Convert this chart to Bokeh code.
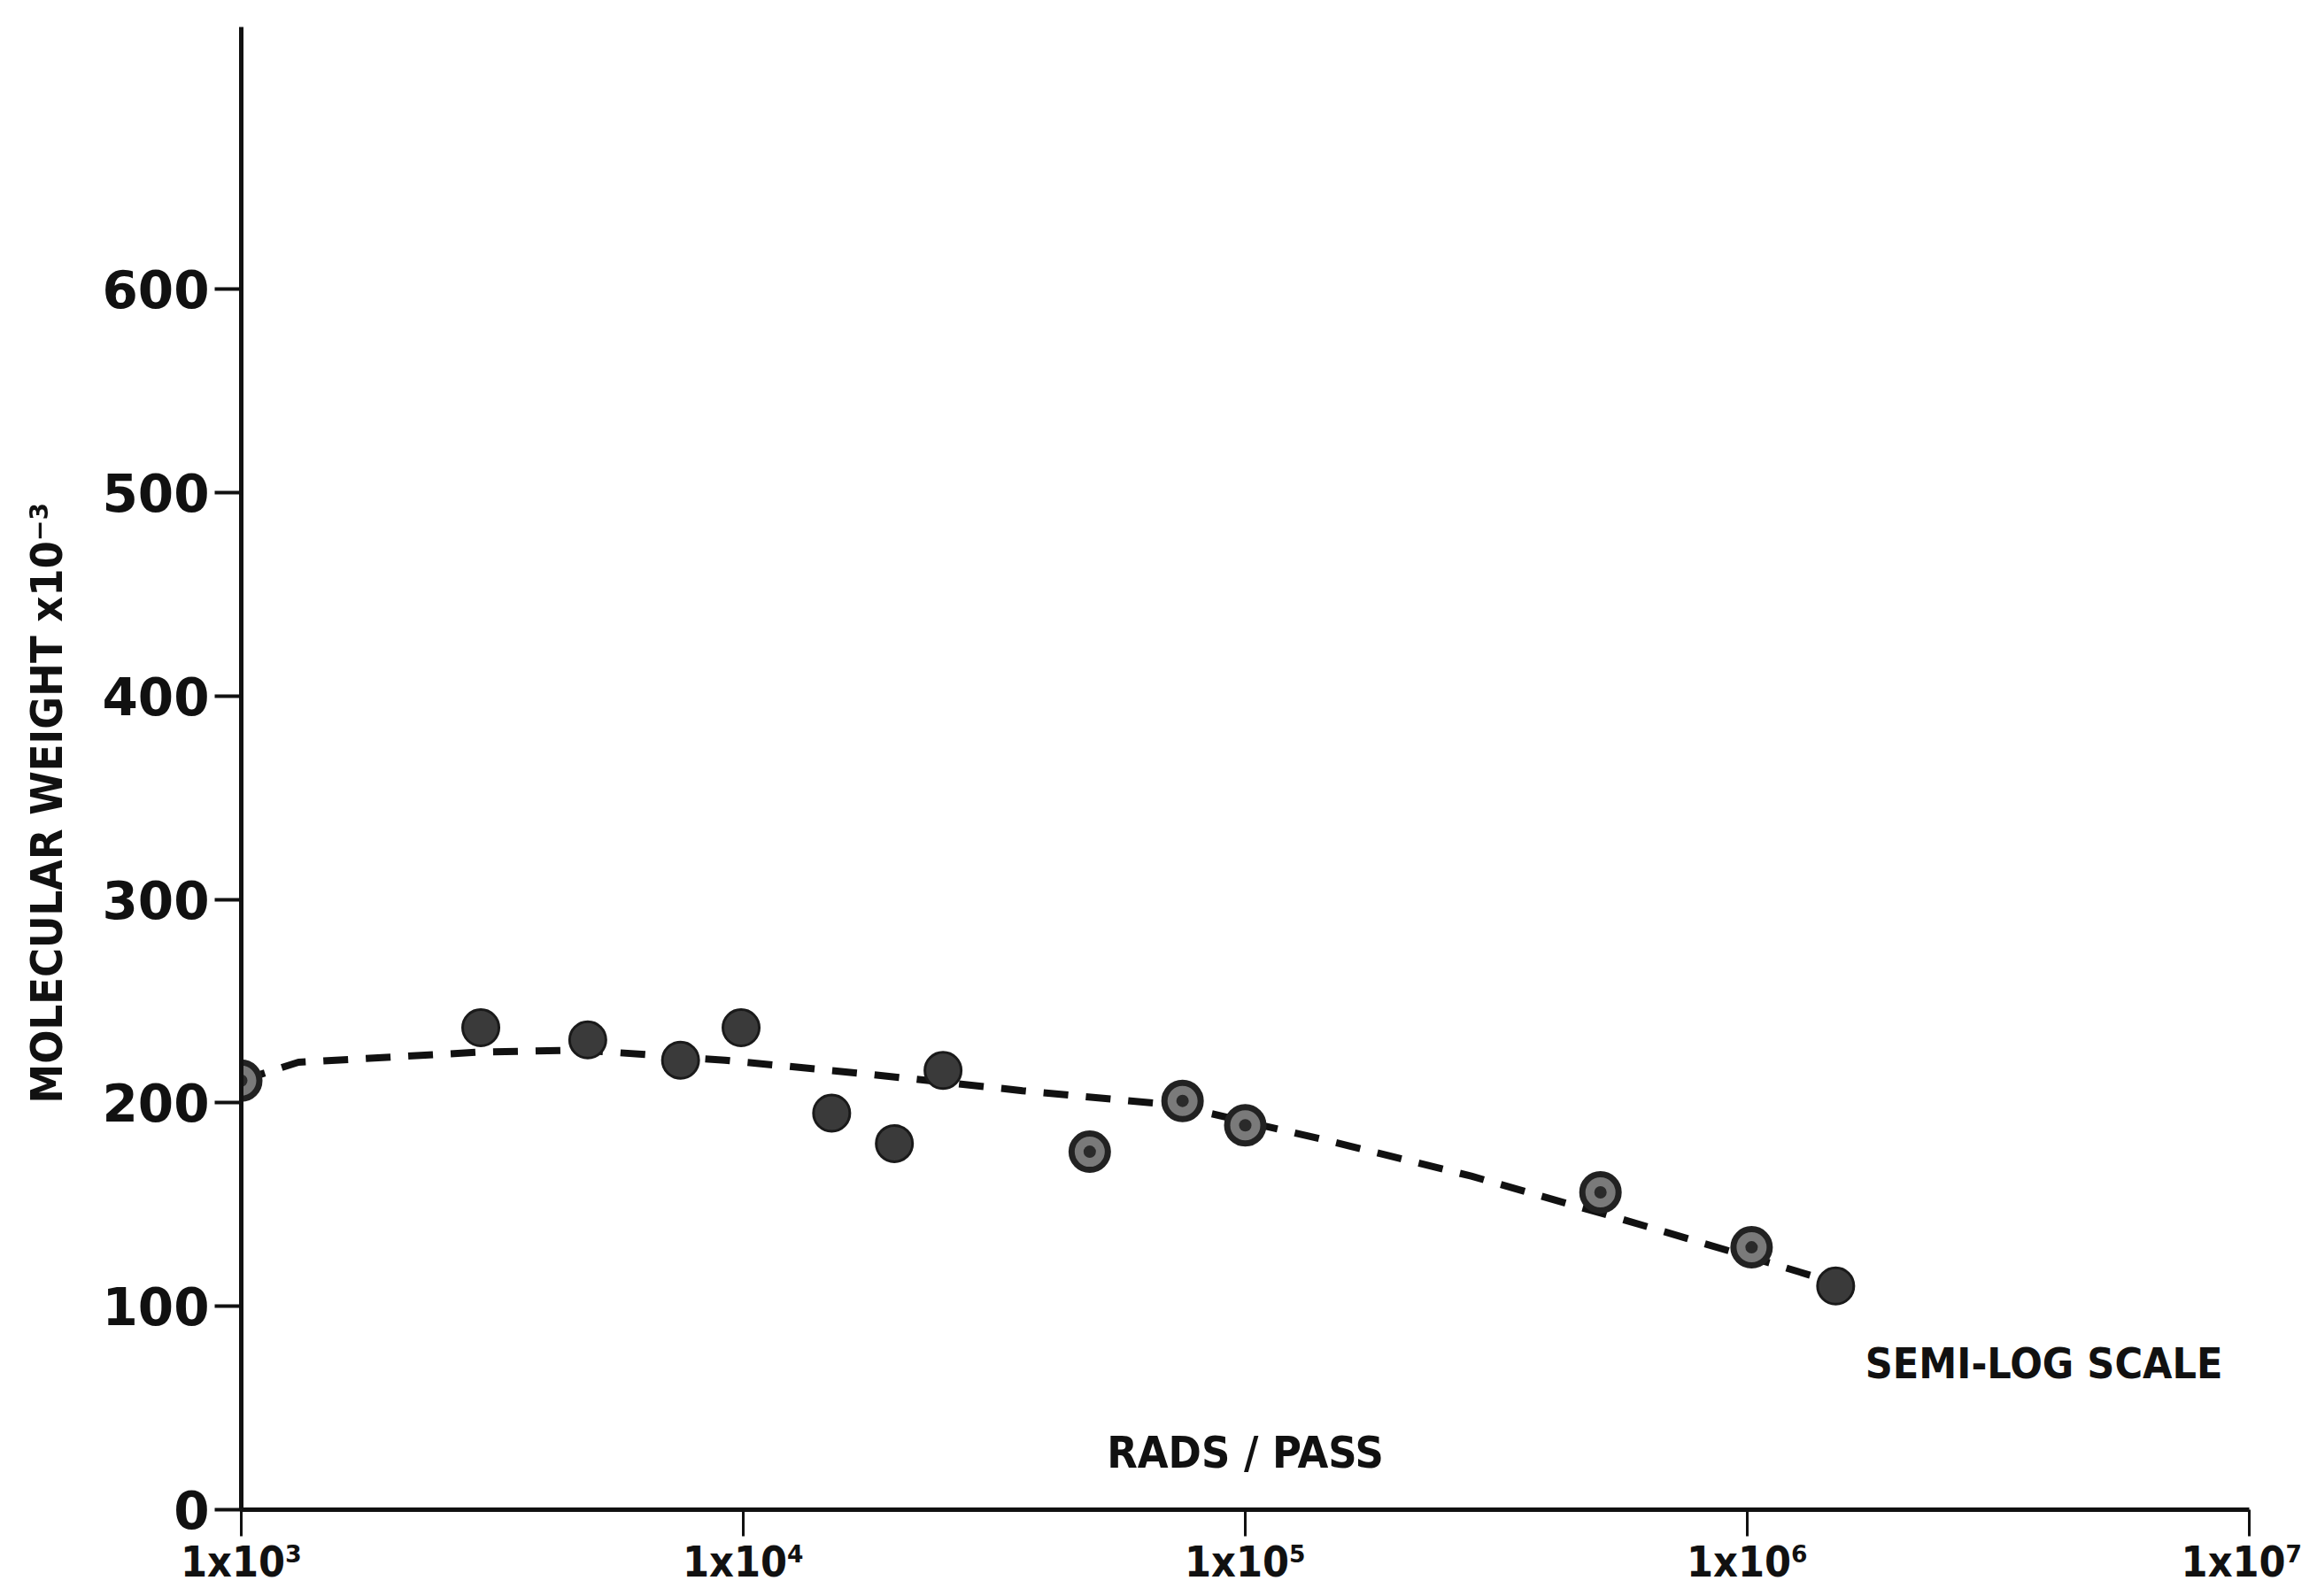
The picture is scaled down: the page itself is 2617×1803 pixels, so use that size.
from bokeh.plotting import figure
from bokeh.models import FixedTicker, Range1d, Label
from bokeh.embed import file_html
from bokeh.resources import INLINE

# ---- data ----
# filled data points
solid_rads = [3000, 4900, 7500, 9900, 15000, 20000, 25000, 1500000]
solid_mw = [237, 231, 221, 237, 195, 180, 216, 110]
# ringed (open-centred) data points
ring_rads = [1000, 49000, 75000, 100000, 510000, 1020000]
ring_mw = [211, 176, 201, 189, 156, 129]
# dashed fitted curve
curve_rads = [1000, 1300, 3000, 4750, 9200, 18000, 36000, 72000, 143000, 282000, 560000, 1120000, 1430000]
curve_mw = [211, 220, 225, 226, 221, 214, 206, 199, 182, 164, 143, 121, 113]

x_ticks = [1e3, 1e4, 1e5, 1e6, 1e7]
x_tick_labels = ["1x10³", "1x10⁴", "1x10⁵", "1x10⁶", "1x10⁷"]
y_ticks = [0, 100, 200, 300, 400, 500, 600]

NARROW = "'Liberation Sans Narrow', 'DejaVu Sans Condensed', sans-serif"
WIDE = "'DejaVu Sans', sans-serif"
INK = "#111111"

p = figure(width=2600, height=1795, x_axis_type="log",
           x_range=Range1d(1e3, 1e7), y_range=Range1d(0, 729),
           output_backend="svg", toolbar_location=None,
           min_border_left=272, min_border_right=60,
           min_border_top=30, min_border_bottom=90)
p.outline_line_color = None
p.xgrid.visible = False
p.ygrid.visible = False
p.background_fill_color = "white"
p.border_fill_color = "white"

# x axis
xa = p.xaxis[0]
xa.ticker = FixedTicker(ticks=x_ticks)
xa.major_label_overrides = {float(t): l for t, l in zip(x_ticks, x_tick_labels)}
xa.axis_line_width = 5
xa.axis_line_color = INK
xa.major_tick_in = 0
xa.major_tick_out = 30
xa.major_tick_line_width = 3
xa.major_tick_line_color = INK
xa.minor_tick_line_color = None
xa.major_label_text_font = NARROW
xa.major_label_text_font_style = "bold"
xa.major_label_text_font_size = "48px"
xa.major_label_text_color = INK
xa.major_label_standoff = 0

# y axis
ya = p.yaxis[0]
ya.ticker = FixedTicker(ticks=y_ticks)
ya.axis_line_width = 5
ya.axis_line_color = INK
ya.major_tick_in = 0
ya.major_tick_out = 30
ya.major_tick_line_width = 4
ya.major_tick_line_color = INK
ya.minor_tick_line_color = None
ya.major_label_text_font = WIDE
ya.major_label_text_font_style = "bold"
ya.major_label_text_font_size = "58px"
ya.major_label_text_color = INK
ya.major_label_standoff = 6
# trailing no-break spaces nudge the centred title slightly downward, as in the reference
ya.axis_label = "MOLECULAR WEIGHT x10⁻³" + "\u00a0" * 5
ya.axis_label_text_font = NARROW
ya.axis_label_text_font_style = "bold"
ya.axis_label_text_font_size = "50px"
ya.axis_label_text_color = INK
ya.axis_label_standoff = 30

# dashed curve
p.line(curve_rads, curve_mw, line_color=INK, line_width=8, line_dash="28 20")

# points
p.scatter(solid_rads, solid_mw, size=41, fill_color="#3a3a3a", line_color="#1a1a1a", line_width=3)
p.scatter(ring_rads, ring_mw, size=41, fill_color="#7a7a7a", line_color="#222222", line_width=7)
p.scatter(ring_rads, ring_mw, size=14, fill_color="#2a2a2a", line_color=None)

# in-plot annotations
p.add_layout(Label(x=1e5, y=28, text="RADS / PASS", text_align="center", text_baseline="middle",
                   text_font=NARROW, text_font_style="bold", text_font_size="50px", text_color=INK))
p.add_layout(Label(x=3.9e6, y=72, text="SEMI-LOG SCALE", text_align="center", text_baseline="middle",
                   text_font=NARROW, text_font_style="bold", text_font_size="48px", text_color=INK))

open("out.html", "w").write(file_html(p, INLINE))
